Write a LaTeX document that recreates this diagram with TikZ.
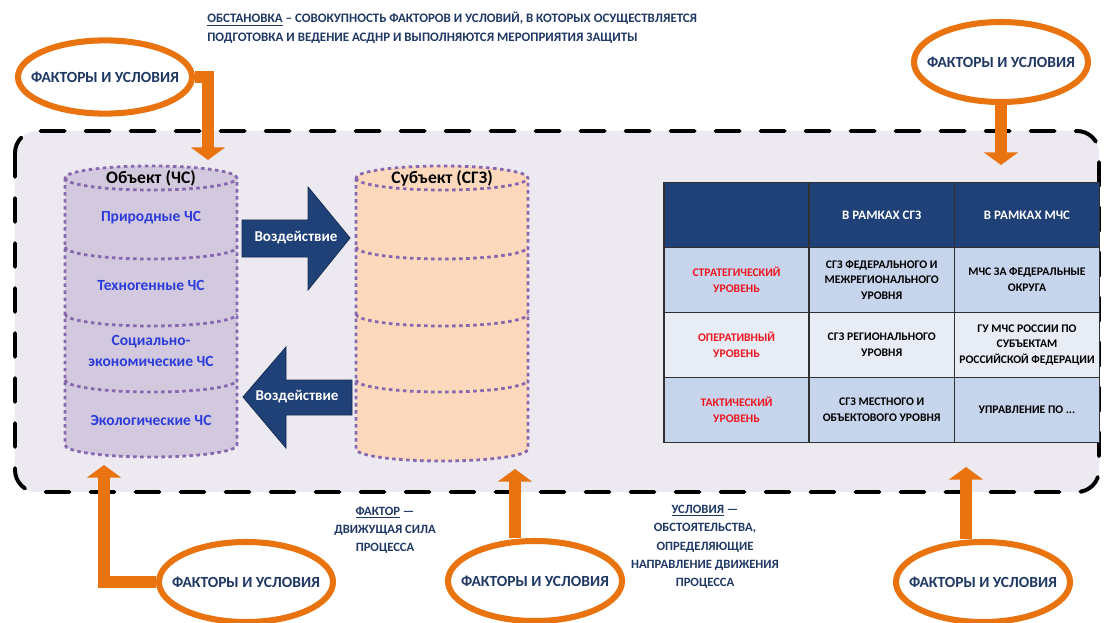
\documentclass[tikz,border=0pt]{standalone}
\usepackage{fontspec}
\setmainfont{Carlito}
\usepackage{xcolor}
\usetikzlibrary{calc, shapes.geometric, arrows.meta, positioning}

\definecolor{navy}{HTML}{1F4177}
\definecolor{inkblue}{HTML}{1F3864}
\definecolor{chsblue}{HTML}{2D3BDB}
\definecolor{scenefill}{HTML}{ECE9F1}
\definecolor{objfill}{HTML}{D2C9DE}
\definecolor{subjfill}{HTML}{FCD9BD}
\definecolor{cylline}{HTML}{8767AE}
\definecolor{factororange}{HTML}{E8730F}
\definecolor{rowblue}{HTML}{C6D5EB}
\definecolor{rowpale}{HTML}{E8EDF5}
\definecolor{levelred}{HTML}{F0141E}
\definecolor{gridgray}{HTML}{303030}

\tikzset{
    scene/.style={fill=scenefill, draw=black, line width=2.8pt,
        dash pattern=on 17pt off 15pt, line cap=round, rounded corners=0.55cm},
    factors/.style={ellipse, draw=factororange, line width=4.3pt, fill=white,
        minimum width=4.35cm, minimum height=2cm, inner sep=0pt,
        text=inkblue, font=\fontsize{11}{12}\selectfont\bfseries},
    factorarrow/.style={draw=factororange, line width=8.5pt,
        -{Triangle[width=24pt,length=9pt]}},
    cylborder/.style={draw=cylline, line width=2pt, dash pattern=on 2.5pt off 2.5pt},
    cyltitle/.style={font=\fontsize{12.5}{14}\selectfont\bfseries},
    chs/.style={text=chsblue, align=center, font=\fontsize{11}{15}\selectfont\bfseries},
    impact/.style={fill=navy, draw=navy!70!black, line width=0.6pt},
    impactlabel/.style={text=white, font=\fontsize{10.7}{12}\selectfont\bfseries},
    tablecell/.style={draw=gridgray, line width=0.9pt, minimum width=3.63cm,
        minimum height=1.625cm, inner sep=2pt, outer sep=0pt, align=center,
        font=\fontsize{8.3}{11.3}\selectfont\bfseries},
    headcell/.style={tablecell, fill=navy, text=white,
        font=\fontsize{9.2}{11}\selectfont\bfseries},
    levelcell/.style={tablecell, text=levelred},
    note/.style={text=inkblue, align=center, font=\fontsize{9}{13}\selectfont\bfseries}
}

\newcommand{\factortext}{\makebox[0pt][c]{ФАКТОРЫ И УСЛОВИЯ}}

\begin{document}
\begin{tikzpicture}[x=0.025cm, y=-0.025cm]
    \useasboundingbox (0,0) rectangle (1105,623);

    % situation frame
    \draw[scene] (15,131) rectangle (1099,492);

    \node[anchor=west, align=left, inner sep=0pt, text=inkblue,
        font=\fontsize{9.2}{13.5}\selectfont\bfseries] (situation) at (207,28)
        {\underline{ОБСТАНОВКА} – СОВОКУПНОСТЬ ФАКТОРОВ И УСЛОВИЙ, В КОТОРЫХ ОСУЩЕСТВЛЯЕТСЯ\\
         ПОДГОТОВКА И ВЕДЕНИЕ АСДНР И ВЫПОЛНЯЮТСЯ МЕРОПРИЯТИЯ ЗАЩИТЫ};

    % cylinders: object and subject
    \foreach \xl/\fillc/\yb in {65/objfill/445, 356/subjfill/449} {
        \fill[\fillc] (\xl,178) -- (\xl,\yb)
            arc[start angle=180, end angle=360, x radius=2.15cm, y radius=0.3cm]
            -- (\xl+172,178)
            arc[start angle=0, end angle=180, x radius=2.15cm, y radius=0.3cm] -- cycle;
        \draw[cylborder] (\xl,178) -- (\xl,\yb)
            arc[start angle=180, end angle=360, x radius=2.15cm, y radius=0.3cm]
            -- (\xl+172,178)
            arc[start angle=0, end angle=180, x radius=2.15cm, y radius=0.3cm];
        \foreach \ys in {178,247,314,380}
            \draw[cylborder] (\xl,\ys)
                arc[start angle=180, end angle=360, x radius=2.15cm, y radius=0.3cm];
    }

    \node[cyltitle] (object) at (151,178) {Объект (ЧС)};
    \node[chs] (natural) at (151,218) {Природные ЧС};
    \node[chs] (technogenic) at (151,285) {Техногенные ЧС};
    \node[chs] (social) at (151,351) {Социально-\\экономические ЧС};
    \node[chs] (ecological) at (151,420) {Экологические ЧС};
    \node[cyltitle] (subject) at (442,178) {Субъект (СГЗ)};

    % impact arrows
    \draw[impact] (242,220) -- (308,220) -- (308,187) -- (350,238)
        -- (308,290) -- (308,257) -- (242,257) -- cycle;
    \node[impactlabel] (impactfwd) at (296,238) {Воздействие};
    \draw[impact] (243,397) -- (286,347) -- (286,380) -- (352,380)
        -- (352,415) -- (286,415) -- (286,448) -- cycle;
    \node[impactlabel] (impactback) at (297,397) {Воздействие};

    % levels table
    \node[headcell] (h0) at (736.5,215) {};
    \node[headcell, right=0pt of h0] (h1) {В РАМКАХ СГЗ};
    \node[headcell, right=0pt of h1] (h2) {В РАМКАХ МЧС};
    \node[levelcell, fill=rowblue, below=0pt of h0] (s0) {СТРАТЕГИЧЕСКИЙ\\УРОВЕНЬ};
    \node[tablecell, fill=rowblue, right=0pt of s0] (s1) {СГЗ ФЕДЕРАЛЬНОГО И\\МЕЖРЕГИОНАЛЬНОГО\\УРОВНЯ};
    \node[tablecell, fill=rowblue, right=0pt of s1] (s2) {МЧС ЗА ФЕДЕРАЛЬНЫЕ\\ОКРУГА};
    \node[levelcell, fill=rowpale, below=0pt of s0] (o0) {ОПЕРАТИВНЫЙ\\УРОВЕНЬ};
    \node[tablecell, fill=rowpale, right=0pt of o0] (o1) {СГЗ РЕГИОНАЛЬНОГО\\УРОВНЯ};
    \node[tablecell, fill=rowpale, right=0pt of o1] (o2) {ГУ МЧС РОССИИ ПО\\СУБЪЕКТАМ\\РОССИЙСКОЙ ФЕДЕРАЦИИ};
    \node[levelcell, fill=rowblue, below=0pt of o0] (t0) {ТАКТИЧЕСКИЙ\\УРОВЕНЬ};
    \node[tablecell, fill=rowblue, right=0pt of t0] (t1) {СГЗ МЕСТНОГО И\\ОБЪЕКТОВОГО УРОВНЯ};
    \node[tablecell, fill=rowblue, right=0pt of t1] (t2) {УПРАВЛЕНИЕ ПО ...};

    % factors and conditions
    \node[factors, minimum height=1.83cm] (ftl) at (105,77) {\factortext};
    \node[factors] (ftr) at (1001,62) {\factortext};
    \node[factors] (fbl) at (246,582) {\factortext};
    \node[factors] (fbm) at (535,581) {\factortext};
    \node[factors] (fbr) at (983,582) {\factortext};

    \coordinate (tltip) at (208,160);
    \coordinate (trtip) at (1001,165);
    \coordinate (bltip) at (104,465);
    \coordinate (bmtip) at (515,469);
    \coordinate (brtip) at (966,467);

    \draw[factorarrow] (ftl.east) -| (tltip);
    \draw[factorarrow] (ftr.south) -- (trtip);
    \draw[factorarrow] (fbl.west) -| (bltip);
    \draw[factorarrow] (bmtip |- fbm.north) -- (bmtip);
    \draw[factorarrow] (brtip |- fbr.north) -- (brtip);

    % definitions
    \node[note] (factornote) at (385,530) {\underline{ФАКТОР} —\\ДВИЖУЩАЯ СИЛА\\ПРОЦЕССА};
    \node[note] (condnote) at (705,547) {\underline{УСЛОВИЯ} —\\ОБСТОЯТЕЛЬСТВА,\\ОПРЕДЕЛЯЮЩИЕ\\НАПРАВЛЕНИЕ ДВИЖЕНИЯ\\ПРОЦЕССА};
\end{tikzpicture}
\end{document}
